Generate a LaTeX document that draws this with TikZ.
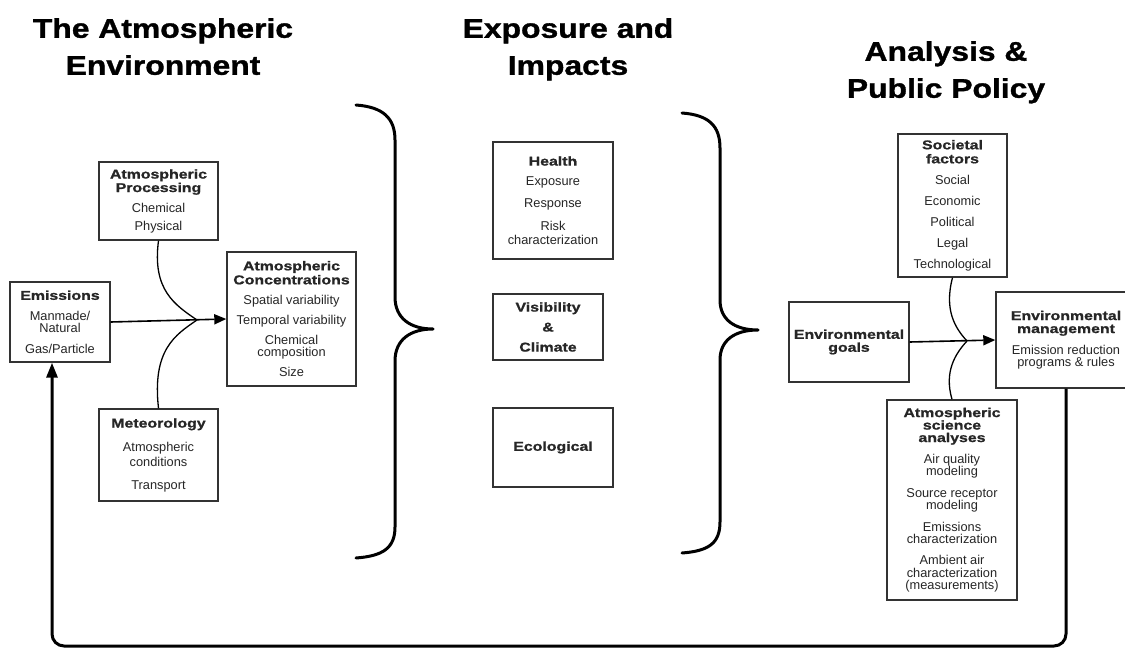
\documentclass[tikz,border=0pt]{standalone}
\usepackage{fontspec}
\setmainfont{Liberation Sans}
\newfontfamily\headfont{Liberation Sans}[FakeStretch=1.18, FakeBold=1.2]
\newfontfamily\boxfont{Liberation Sans}[FakeStretch=1.24, FakeBold=1.0]
\usepackage{tikz}
\usetikzlibrary{arrows.meta}

\newcommand{\hdr}[1]{{\boxfont\bfseries #1}}

\begin{document}
\begin{tikzpicture}[x=1pt, y=-1pt,
    box/.style={draw=black!80, line width=1.4pt, align=center, inner sep=3pt,
      font=\fontsize{12.8}{12.5}\selectfont, text=black!85},
    title/.style={font=\fontsize{27}{37}\headfont\bfseries, align=center, inner sep=0pt, anchor=north},
    arr/.style={line width=1.6pt, -{Triangle[length=12pt, width=10pt]}},
    link/.style={line width=1.3pt},
    brc/.style={line width=3pt, line cap=round, line join=round},
    feed/.style={line width=3pt, rounded corners=12pt, -{Triangle[length=15pt, width=11pt]}}
  ]
  \useasboundingbox[fill=white] (0,0) rectangle (1125,650);

  % column headings
  \node[title] (tEnv) at (163,18) {The Atmospheric\\Environment};
  \node[title] (tImp) at (568,18) {Exposure and\\Impacts};
  \node[title] (tPol) at (946,41) {Analysis \&\\Public Policy};

  % atmospheric environment
  \node[box, minimum width=100, minimum height=80] (emis) at (60,322)
    {\hdr{Emissions}\\[8pt]Manmade/\\Natural\\[8pt]Gas/Particle};
  \node[box, minimum width=119, minimum height=78] (proc) at (158.5,201)
    {\hdr{Atmospheric}\\[1pt]\hdr{Processing}\\[8pt]Chemical\\[5pt]Physical};
  \node[box, minimum width=129, minimum height=134] (conc) at (291.5,319)
    {\hdr{Atmospheric}\\[1.5pt]\hdr{Concentrations}\\[7.5pt]Spatial variability\\[7.5pt]Temporal variability\\[7.5pt]Chemical\\composition\\[7.5pt]Size};
  \node[box, minimum width=119, minimum height=92] (met) at (158.5,455)
    {\hdr{Meteorology}\\[11pt]Atmospheric\\[3pt]conditions\\[10pt]Transport};

  \coordinate (mergeL) at (197,320);
  \draw[arr] (emis.east) -- (conc.west);
  \draw[link] (proc.south) .. controls (152,290) and (175,305) .. (mergeL);
  \draw[link] (met.north) .. controls (152,350) and (175,335) .. (mergeL);

  % left brace
  \draw[brc] (356,105) .. controls (383,107) and (395,118) .. (395,140) -- (395,297)
    .. controls (395,318) and (410,329) .. (433,329)
    .. controls (410,329) and (395,340) .. (395,361) -- (395,527)
    .. controls (395,548) and (383,556) .. (356,558);

  % exposure and impacts
  \node[box, minimum width=120, minimum height=117] (health) at (553,200.5)
    {\hdr{Health}\\[7.5pt]Exposure\\[9.5pt]Response\\[10.5pt]Risk\\[1.5pt]characterization};
  \node[box, minimum width=110, minimum height=66] (vis) at (548,327)
    {\hdr{Visibility}\\[7.5pt]\hdr{\&}\\[7.5pt]\hdr{Climate}};
  \node[box, minimum width=120, minimum height=79] (eco) at (553,447.5)
    {\hdr{Ecological}};

  % right brace
  \draw[brc] (682,113) .. controls (709,115) and (720,126) .. (720,148) -- (720,300)
    .. controls (720,320) and (735,330) .. (758,330)
    .. controls (735,330) and (720,340) .. (720,360) -- (720,522)
    .. controls (720,543) and (709,551) .. (682,553);

  % analysis and public policy
  \node[box, minimum width=109, minimum height=143] (soc) at (952.5,205.5)
    {\hdr{Societal}\\[1.5pt]\hdr{factors}\\[8.5pt]Social\\[8.5pt]Economic\\[8.5pt]Political\\[8.5pt]Legal\\[8.5pt]Technological};
  \node[box, minimum width=120, minimum height=80] (goals) at (849,342)
    {\hdr{Environmental}\\[0.5pt]\hdr{goals}};
  \node[box, minimum width=140, minimum height=96] (mgmt) at (1066,340)
    {\hdr{Environmental}\\[0.5pt]\hdr{management}\\[8.5pt]Emission reduction\\programs \& rules};
  \node[box, minimum width=130, minimum height=200] (asa) at (952,500)
    {\hdr{Atmospheric}\\\hdr{science}\\\hdr{analyses}\\[8.5pt]Air quality\\modeling\\[9pt]Source receptor\\modeling\\[9pt]Emissions\\characterization\\[8.5pt]Ambient air\\characterization\\(measurements)};

  \coordinate (mergeR) at (967,341);
  \draw[arr] (goals.east) -- (mgmt.west);
  \draw[link] (soc.south) .. controls (944,310) and (955,328) .. (mergeR);
  \draw[link] (asa.north) .. controls (944,372) and (955,354) .. (mergeR);

  % feedback loop back to the emissions
  \coordinate (base) at (0,646);
  \coordinate (fbin) at ([xshift=-8pt]emis.south);
  \draw[feed] (mgmt.south) -- (mgmt.south |- base) -- (fbin |- base) -- (fbin);
\end{tikzpicture}
\end{document}
